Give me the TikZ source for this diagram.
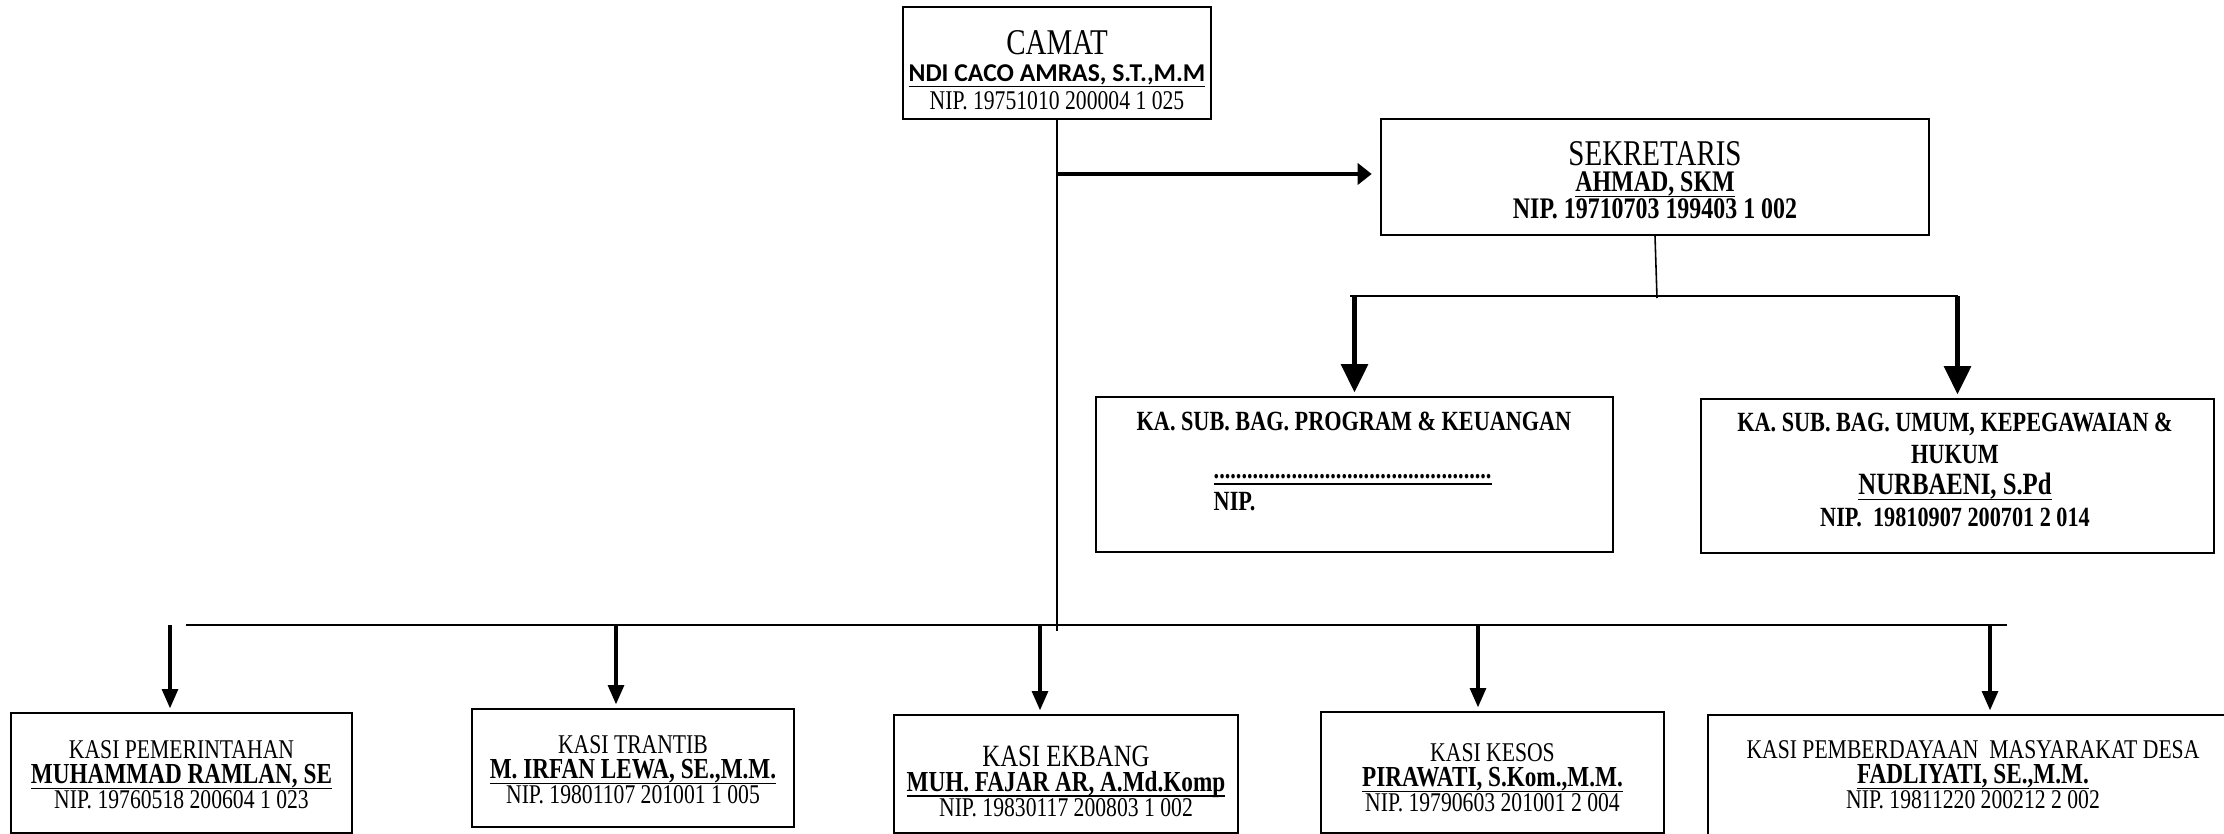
\documentclass[tikz,border=0pt]{standalone}
\usepackage{fontspec}
\setmainfont{Liberation Serif}[FakeStretch=0.8]
\newfontfamily\calibri{Carlito}
\usetikzlibrary{arrows.meta}

\newcommand{\rapat}{\lineskiplimit=-20pt\relax\lineskip=0pt\relax}
\newcommand{\garisbawah}[1]{\underline{\smash{#1}}}
\tikzset{
  kotak/.style={draw, line width=0.6pt, inner sep=0pt},
  teks/.style={align=center, inner sep=0pt, font=\fontsize{7.7}{7.1}\selectfont\rapat},
  garis/.style={line width=0.45pt},
  panah/.style={line width=1pt, -{Triangle[length=5.5pt,width=4.5pt]}, shorten >=1pt},
  panahbesar/.style={line width=1.3pt, -{Triangle[length=8pt,width=7.5pt]}, shorten >=1pt},
}
\newcommand{\jabatan}[1]{{\fontsize{10.3}{10}\selectfont #1}}
\newcommand{\nama}[1]{{\bfseries\fontsize{8.25}{7.1}\selectfont\garisbawah{#1}}}

\begin{document}
\begin{tikzpicture}[x=0.01cm, y=-0.01cm]
  \useasboundingbox (0,0) rectangle (2224,834);

  % Camat
  \node[kotak, minimum width=3.08cm, minimum height=1.12cm] (camat) at (1057,63) {};
  \node[teks, font=\fontsize{7.7}{7.8}\selectfont\rapat] (camat-t) at (1057,70) {\jabatan{CAMAT}\\ {\calibri\bfseries\fontsize{7.3}{7.8}\selectfont\garisbawah{NDI CACO AMRAS, S.T.,M.M}}\\ NIP. 19751010 200004 1 025};

  % Sekretaris
  \node[kotak, minimum width=5.48cm, minimum height=1.16cm] (sekr) at (1655,177) {};
  \node[teks, font=\bfseries\fontsize{8.5}{7.6}\selectfont\rapat] (sekr-t) at (1655,180) {\jabatan{\mdseries SEKRETARIS}\\ \garisbawah{AHMAD, SKM}\\ NIP. 19710703 199403 1 002};

  % Sub bagian
  \node[kotak, minimum width=5.17cm, minimum height=1.55cm] (program) at (1354.5,474.5) {};
  \node[teks, font=\bfseries\fontsize{7.9}{8}\selectfont] (program-t) at (1354,421) {KA. SUB. BAG. PROGRAM \& KEUANGAN};
  \node[teks, font=\bfseries\fontsize{7.9}{9}\selectfont\rapat, align=left, anchor=west] (program-n) at (1213,495) {\garisbawah{..................................................}\\ NIP.};

  \node[kotak, minimum width=5.13cm, minimum height=1.54cm] (umum) at (1957.5,476) {};
  \node[teks, font=\bfseries\fontsize{7.9}{9}\selectfont\rapat] (umum-t) at (1955,470) {KA. SUB. BAG. UMUM, KEPEGAWAIAN \&\\ HUKUM\\ {\fontsize{8.8}{9.6}\selectfont\garisbawah{NURBAENI, S.Pd}}\\ NIP.\ \ 19810907 200701 2 014};

  % Kasi
  \node[kotak, minimum width=3.41cm, minimum height=1.2cm] (pemerintahan) at (181.5,773) {};
  \node[teks] (pemerintahan-t) at (181.5,775) {KASI PEMERINTAHAN\\ \nama{MUHAMMAD RAMLAN, SE}\\ NIP. 19760518 200604 1 023};

  \node[kotak, minimum width=3.22cm, minimum height=1.18cm] (trantib) at (633,768) {};
  \node[teks] (trantib-t) at (633,770) {KASI TRANTIB\\ \nama{M. IRFAN LEWA, SE.,M.M.}\\ NIP. 19801107 201001 1 005};

  \node[kotak, minimum width=3.44cm, minimum height=1.18cm] (ekbang) at (1066,774) {};
  \node[teks] (ekbang-t) at (1066,781) {{\fontsize{8.8}{7.6}\selectfont KASI EKBANG}\\ \nama{MUH. FAJAR AR, A.Md.Komp}\\ NIP. 19830117 200803 1 002};

  \node[kotak, minimum width=3.43cm, minimum height=1.21cm] (kesos) at (1492.5,772.5) {};
  \node[teks] (kesos-t) at (1492.5,778) {KASI KESOS\\ \nama{PIRAWATI, S.Kom.,M.M.}\\ NIP. 19790603 201001 2 004};

  \node[kotak, minimum width=5.3cm, minimum height=1.3cm] (pmd) at (1973,780) {};
  \node[teks] (pmd-t) at (1973,775) {KASI PEMBERDAYAAN\ \ MASYARAKAT DESA\\ \nama{FADLIYATI, SE.,M.M.}\\ NIP. 19811220 200212 2 002};

  % Garis camat ke bawah
  \coordinate (pusat) at (1057,631);
  \draw[garis] (camat.south) -- (pusat);
  \coordinate (cabang) at (1057,174);
  \draw[line width=1.1pt, -{Triangle[length=4pt,width=6pt]}, shorten >=2.3pt] (cabang) -- (sekr.west |- cabang);

  % Sekretaris ke sub bagian
  \coordinate (sekr-bawah) at (1657,298);
  \draw[garis] (sekr.south) -- (sekr-bawah);
  \coordinate (kiri) at (1350,296);
  \coordinate (kanan) at (1957.5,296);
  \draw[line width=0.75pt] (kiri) -- (kanan);
  \draw[panahbesar] (program.north |- kiri) -- (program.north);
  \draw[panahbesar] (umum.north |- kanan) -- (umum.north);

  % Garis kasi
  \coordinate (bar-kiri) at (186,625);
  \coordinate (bar-kanan) at (2007,625);
  \draw[line width=0.7pt] (bar-kiri) -- (bar-kanan);
  \foreach \x/\kasi in {170/pemerintahan, 616/trantib, 1040/ekbang, 1478/kesos, 1990/pmd}{
    \coordinate (atas-\kasi) at (\x,625);
    \draw[panah] (atas-\kasi) -- (atas-\kasi |- \kasi.north);
  }
\end{tikzpicture}
\end{document}
